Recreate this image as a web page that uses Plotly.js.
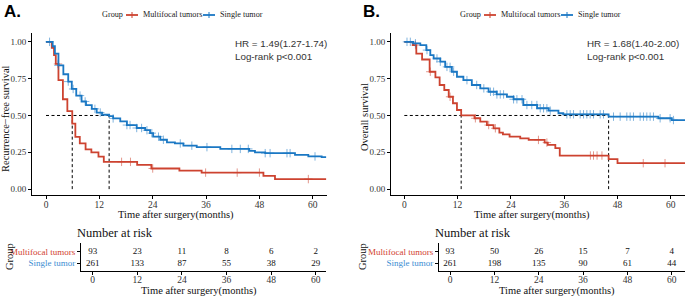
<!DOCTYPE html>
<html><head><meta charset="utf-8">
<script src="https://cdn.plot.ly/plotly-3.0.1.min.js"></script>
<style>html,body{margin:0;padding:0;background:#fff}#c{width:685px;height:296px}</style>
</head><body><div id="c"></div>
<script>
// ---------- DATA ----------
const groups = ["Multifocal tumors", "Single tumor"];
// Panel A: recurrence-free survival
const redA_t = [0, 1.3, 1.8, 2.2, 2.8, 3.8, 4.8, 5.9, 6.6, 7.6, 8.9, 10.2, 11.8, 13.0, 20.5, 23.7, 30.0, 35.0, 48.9, 51.5, 63];
const redA_s = [1, 0.96, 0.91, 0.85, 0.74, 0.61, 0.53, 0.445, 0.355, 0.31, 0.27, 0.25, 0.22, 0.185, 0.165, 0.14, 0.126, 0.112, 0.09, 0.068, 0.068];
const redA_cens = [2.7, 17.0, 19.0, 24.0, 35.9, 43.0, 48.0, 59.0];
const blueA_t = [0, 1.5, 2.0, 2.8, 3.9, 5.0, 5.8, 6.8, 8.0, 9.0, 10.3, 11.4, 12.6, 14.2, 15.1, 16.7, 18.2, 20.4, 22.3, 23.4, 24.1, 25.7, 27.2, 29.0, 30.9, 33.9, 39.2, 45.7, 47.0, 49.3, 56.0, 59.0, 62.0, 63];
const blueA_s = [1, 0.97, 0.92, 0.84, 0.78, 0.73, 0.68, 0.635, 0.595, 0.57, 0.545, 0.52, 0.505, 0.495, 0.48, 0.46, 0.435, 0.415, 0.40, 0.38, 0.356, 0.335, 0.318, 0.31, 0.295, 0.285, 0.273, 0.26, 0.25, 0.244, 0.232, 0.222, 0.217, 0.217];
const blueA_cens = [0.8, 2.8, 5.0, 6.1, 7.65, 8.8, 11.0, 12.2, 15.1, 18.2, 18.9, 20.4, 21.5, 22.7, 23.8, 25.3, 26.4, 30.2, 32.8, 36.2, 41.8, 43.7, 45.5, 49.3, 50.4, 54.2, 54.9, 60.5];
// Panel B: overall survival
const redB_t = [0, 1.95, 2.7, 4.0, 5.7, 7.0, 7.95, 9.0, 10.0, 10.95, 11.85, 12.8, 15.8, 17.1, 18.6, 20.1, 21.4, 22.2, 23.7, 26.1, 28.0, 31.6, 32.3, 34.0, 35.0, 46.0, 48.0, 63.5];
const redB_s = [1, 0.978, 0.92, 0.88, 0.797, 0.759, 0.707, 0.673, 0.627, 0.583, 0.537, 0.50, 0.481, 0.458, 0.435, 0.413, 0.383, 0.372, 0.356, 0.345, 0.334, 0.316, 0.30, 0.278, 0.228, 0.203, 0.176, 0.176];
const redB_cens = [2.5, 5.85, 10.3, 16.0, 19.0, 20.5, 30.2, 32.1, 41.9, 42.6, 43.4, 44.5, 53.8, 58.7];
const blueB_t = [0, 2.0, 3.6, 4.95, 5.85, 6.6, 8.1, 9.2, 10.7, 11.85, 13.3, 15.2, 17.1, 18.97, 20.8, 23.1, 24.6, 26.8, 29.9, 32.5, 34.7, 35.8, 46.0, 57.2, 60.2, 63.5];
const blueB_s = [1, 0.99, 0.978, 0.944, 0.91, 0.887, 0.865, 0.83, 0.797, 0.763, 0.74, 0.707, 0.684, 0.661, 0.643, 0.627, 0.61, 0.571, 0.549, 0.533, 0.515, 0.508, 0.492, 0.481, 0.469, 0.469];
const blueB_cens = [0.6, 1.35, 2.5, 5.1, 7.35, 8.1, 9.6, 10.3, 11.1, 14.1, 16.3, 17.9, 19.4, 20.1, 20.85, 21.6, 22.35, 24.6, 25.35, 26.5, 27.6, 28.7, 29.85, 30.6, 31.35, 32.1, 32.85, 36.6, 37.35, 38.1, 39.6, 40.35, 41.1, 41.85, 42.6, 44.1, 44.85, 47.1, 48.6, 50.1, 50.85, 51.6, 53.1, 53.85, 54.6, 55.35, 56.1, 57.6, 59.85, 60.6];
// Numbers at risk
const riskTimes = [0, 12, 24, 36, 48, 60];
const riskA_multi = [93, 23, 11, 8, 6, 2];
const riskA_single = [261, 133, 87, 55, 38, 29];
const riskB_multi = [93, 50, 26, 15, 7, 4];
const riskB_single = [261, 198, 135, 90, 61, 44];
const xTicks = [0, 12, 24, 36, 48, 60];
const yTicks = [0, 0.25, 0.5, 0.75, 1];
const yTickText = ["0.00", "0.25", "0.50", "0.75", "1.00"];
const hrA = "HR = 1.49(1.27-1.74)<br>Log-rank p<0.001";
const hrB = "HR = 1.68(1.40-2.00)<br>Log-rank p<0.001";

// ---------- STYLE ----------
const RED = "#CD4330", BLUE = "#1B78C4", RED_T = "#D2412F", BLUE_T = "#3A8DD2";
const SERIF = "Liberation Serif, Times New Roman, serif";
const SANS = "Liberation Sans, Arial, sans-serif";
const W = 685, H = 296;
const X = p => p / W, Y = p => 1 - p / H;

function stepAt(t, T, S) { let v = S[0]; for (let i = 0; i < T.length; i++) { if (T[i] <= t) v = S[i]; } return v; }
function median(T, S) { for (let i = 0; i < T.length; i++) if (S[i] <= 0.5) return T[i]; return null; }

const traces = [];
function addCurve(T, S, cens, color, xa, ya) {
  traces.push({x: T, y: S, mode: "lines", line: {shape: "hv", color: color, width: 1.8}, xaxis: xa, yaxis: ya, showlegend: false, hoverinfo: "skip"});
  traces.push({x: cens, y: cens.map(t => stepAt(t, T, S)), mode: "markers", marker: {symbol: "cross-thin-open", size: 6, color: color, line: {width: 1, color: color}}, opacity: 0.55, xaxis: xa, yaxis: ya, showlegend: false, hoverinfo: "skip"});
}
function addMedians(curves, xa, ya) {
  const meds = curves.map(c => median(c[0], c[1]));
  const xs = [0, Math.max(...meds), null], ys = [0.5, 0.5, null];
  meds.forEach(m => { xs.push(m, m, null); ys.push(0, 0.5, null); });
  traces.push({x: xs, y: ys, mode: "lines", line: {color: "#000", width: 1, dash: "3px,2.5px"}, xaxis: xa, yaxis: ya, showlegend: false, hoverinfo: "skip"});
}
addMedians([[redA_t, redA_s], [blueA_t, blueA_s]], "x", "y");
addCurve(redA_t, redA_s, redA_cens, RED, "x", "y");
addCurve(blueA_t, blueA_s, blueA_cens, BLUE, "x", "y");
addMedians([[redB_t, redB_s], [blueB_t, blueB_s]], "x2", "y2");
addCurve(redB_t, redB_s, redB_cens, RED, "x2", "y2");
addCurve(blueB_t, blueB_s, blueB_cens, BLUE, "x2", "y2");

function addRisk(multi, single, xa, ya) {
  traces.push({x: riskTimes, y: riskTimes.map(() => 2), text: multi.map(String), mode: "text", textfont: {family: SERIF, size: 9, color: "#111"}, xaxis: xa, yaxis: ya, showlegend: false, hoverinfo: "skip"});
  traces.push({x: riskTimes, y: riskTimes.map(() => 1), text: single.map(String), mode: "text", textfont: {family: SERIF, size: 9, color: "#111"}, xaxis: xa, yaxis: ya, showlegend: false, hoverinfo: "skip"});
}
addRisk(riskA_multi, riskA_single, "x3", "y3");
addRisk(riskB_multi, riskB_single, "x4", "y4");

const baseAx = {showgrid: false, zeroline: false, showline: true, linecolor: "#000", linewidth: 1, ticks: "outside", ticklen: 3, tickcolor: "#000", tickwidth: 1, tickfont: {family: SERIF, size: 9.5, color: "#333"}, fixedrange: true};
const mainX = Object.assign({}, baseAx, {tickvals: xTicks, ticklabelstandoff: -2});
const riskX = Object.assign({}, baseAx, {tickvals: xTicks, ticklabelstandoff: -3});
const mainY = Object.assign({}, baseAx, {tickvals: yTicks, ticktext: yTickText, range: [-0.04, 1.06], domain: [Y(195), Y(33)], tickfont: {family: SERIF, size: 9, color: "#333"}});
const riskY = Object.assign({}, baseAx, {tickvals: [2, 1], ticktext: ['<span style="color:' + RED_T + '">' + groups[0] + '</span>', '<span style="color:' + BLUE_T + '">' + groups[1] + '</span>'], range: [0.34, 2.75], domain: [Y(271), Y(243)], tickfont: {family: SERIF, size: 9, color: "#333"}});

const ann = [];
function txt(x, y, text, opt) { ann.push(Object.assign({xref: "paper", yref: "paper", x: X(x), y: Y(y), text: text, showarrow: false, xanchor: "left", yanchor: "middle", font: {family: SERIF, size: 10.5, color: "#111"}}, opt || {})); }
txt(2, 11, "<b>A.</b>", {font: {family: SANS, size: 17, color: "#000"}});
txt(361, 11, "<b>B.</b>", {font: {family: SANS, size: 17, color: "#000"}});
txt(233, 50, hrA, {align: "left", font: {family: SANS, size: 9.8, color: "#333"}});
txt(585, 50, hrB, {align: "left", font: {family: SANS, size: 9.8, color: "#333"}});
txt(6, 119, "Recurrence\u2212free survival", {xanchor: "center", textangle: -90});
txt(364, 117, "Overall survival", {xanchor: "center", textangle: -90});
txt(176, 215, "Time after surgery(months)", {xanchor: "center"});
txt(532, 215, "Time after surgery(months)", {xanchor: "center"});
txt(199, 290.5, "Time after surgery(months)", {xanchor: "center"});
txt(557, 290.5, "Time after surgery(months)", {xanchor: "center"});
txt(115, 233, "Number at risk", {xanchor: "center", font: {family: SERIF, size: 12.5, color: "#111"}});
txt(473, 233, "Number at risk", {xanchor: "center", font: {family: SERIF, size: 12.5, color: "#111"}});
txt(9, 257, "Group", {xanchor: "center", textangle: -90});
txt(362, 257, "Group", {xanchor: "center", textangle: -90});

// manual legends
const shapes = [];
function legend(x0) {
  const f = {family: SERIF, size: 8.2, color: "#222"};
  txt(x0, 15, "Group", {font: f});
  const items = [[x0 + 26, RED, groups[0]], [x0 + 103, BLUE, groups[1]]];
  items.forEach(it => {
    const lx = it[0];
    shapes.push({type: "line", xref: "paper", yref: "paper", x0: X(lx), x1: X(lx + 12), y0: Y(15), y1: Y(15), line: {color: it[1], width: 1.8}});
    shapes.push({type: "line", xref: "paper", yref: "paper", x0: X(lx + 6), x1: X(lx + 6), y0: Y(12), y1: Y(18), line: {color: it[1], width: 1}});
    txt(lx + 15, 15, it[2], {font: f});
  });
}
legend(100);
legend(458);

const layout = {
  width: W, height: H, margin: {l: 0, r: 0, t: 0, b: 0}, paper_bgcolor: "#fff", plot_bgcolor: "#fff", showlegend: false,
  xaxis: Object.assign({}, mainX, {domain: [X(32), X(327)], range: [-3.15, 63.2], anchor: "y"}),
  yaxis: Object.assign({}, mainY, {anchor: "x"}),
  xaxis2: Object.assign({}, mainX, {domain: [X(391), 1], range: [-3, 63.2], anchor: "y2"}),
  yaxis2: Object.assign({}, mainY, {anchor: "x2"}),
  xaxis3: Object.assign({}, riskX, {domain: [X(81), X(326)], range: [-3.15, 62.75], anchor: "y3"}),
  yaxis3: Object.assign({}, riskY, {anchor: "x3"}),
  xaxis4: Object.assign({}, riskX, {domain: [X(439), 1], range: [-3, 63.6], anchor: "y4"}),
  yaxis4: Object.assign({}, riskY, {anchor: "x4"}),
  annotations: ann, shapes: shapes
};
Plotly.newPlot("c", traces, layout, {staticPlot: true, displayModeBar: false});
</script></body></html>
